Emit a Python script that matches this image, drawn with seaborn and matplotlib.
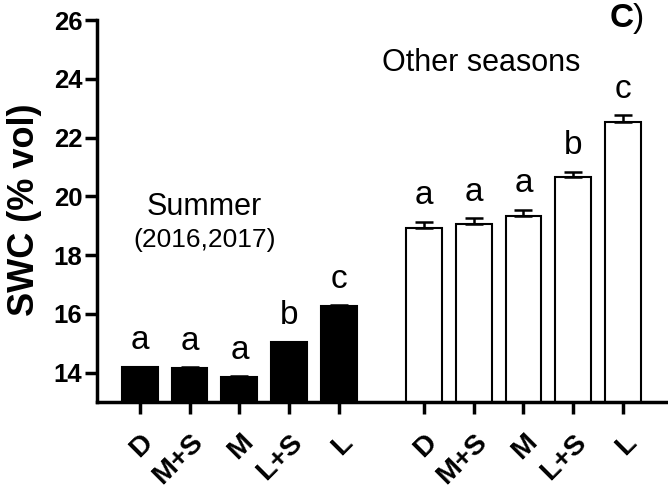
import numpy as np
import pandas as pd
import matplotlib
matplotlib.use("Agg")
import matplotlib.pyplot as plt
import matplotlib.transforms as mtrans
import seaborn as sns

treatments = ['D', 'M+S', 'M', 'L+S', 'L']
summer_swc = [14.18, 14.16, 13.86, 15.03, 16.26]
summer_err = [0.02, 0.02, 0.02, 0.02, 0.03]
other_swc = [18.92, 19.05, 19.34, 20.65, 22.54]
other_err = [0.22, 0.21, 0.20, 0.18, 0.22]
summer_letters = ['a', 'a', 'a', 'b', 'c']
other_letters = ['a', 'a', 'a', 'b', 'c']

sns.set_style("ticks")
plt.rcParams['font.family'] = ['Liberation Sans', 'DejaVu Sans']
plt.rcParams.update({'text.color': 'black', 'axes.labelcolor': 'black',
                     'xtick.color': 'black', 'ytick.color': 'black',
                     'axes.edgecolor': 'black'})

gap = 5.7
pos = list(np.arange(5)) + list(np.arange(5) + gap)
df = pd.DataFrame({
    'pos': pos,
    'swc': summer_swc + other_swc,
    'err': summer_err + other_err,
    'group': ['Summer'] * 5 + ['Other'] * 5,
    'letter': summer_letters + other_letters,
})

fig = plt.figure(figsize=(6.68, 4.91), dpi=100)
ax = fig.add_axes([0.145, 0.181, 0.855, 0.778])

sns.barplot(data=df, x='pos', y='swc', hue='group', native_scale=True, dodge=False,
            palette={'Summer': 'black', 'Other': 'white'}, edgecolor='black',
            linewidth=1.5, width=0.72, legend=False, ax=ax)

ax.errorbar(df['pos'], df['swc'], yerr=[np.zeros(len(df)), df['err']], fmt='none',
            ecolor='black', elinewidth=1.8, capsize=6.5, capthick=1.8, zorder=3)

# significance letters
for p, v, e, t in zip(df['pos'], df['swc'], df['err'], df['letter']):
    ax.text(p, v + e + 0.6, t, ha='center', va='baseline', fontsize=24)

ax.set_ylim(13, 26)
ax.set_xlim(-0.86, 10.6)
ax.set_yticks(np.arange(14, 27, 2))
ax.set_xticks(df['pos'])
ax.set_xticklabels(treatments * 2, rotation=45, ha='right', va='top',
                   rotation_mode='anchor', fontweight='bold', fontsize=20.5)
shift = mtrans.ScaledTranslation(-5 / 100, 0, fig.dpi_scale_trans)
for lab in ax.get_xticklabels():
    lab.set_transform(lab.get_transform() + shift)
for lab in ax.get_yticklabels():
    lab.set_fontweight('bold')
    lab.set_fontsize(18.5)

ax.tick_params(axis='both', width=2.5, length=8.5, color='black')
ax.tick_params(axis='y', pad=2)
ax.tick_params(axis='x', pad=11)
for s in ['left', 'bottom']:
    ax.spines[s].set_linewidth(2.5)
    ax.spines[s].set_color('black')
sns.despine(ax=ax)

ax.set_xlabel('')
ax.set_ylabel('SWC (% vol)', fontweight='bold', fontsize=26)
ax.yaxis.set_label_coords(-0.096, 0.503)

ax.text(1.3, 19.64, 'Summer', ha='center', va='center', fontsize=22)
ax.text(1.3, 18.52, '(2016,2017)', ha='center', va='center', fontsize=19)
ax.text(6.86, 24.54, 'Other seasons', ha='center', va='center', fontsize=22)

fig.text(0.913, 0.945, 'C', fontweight='bold', fontsize=24, ha='left', va='baseline')
fig.text(0.948, 0.945, ')', fontsize=24, ha='left', va='baseline')

fig.savefig('out.png', dpi=100)
